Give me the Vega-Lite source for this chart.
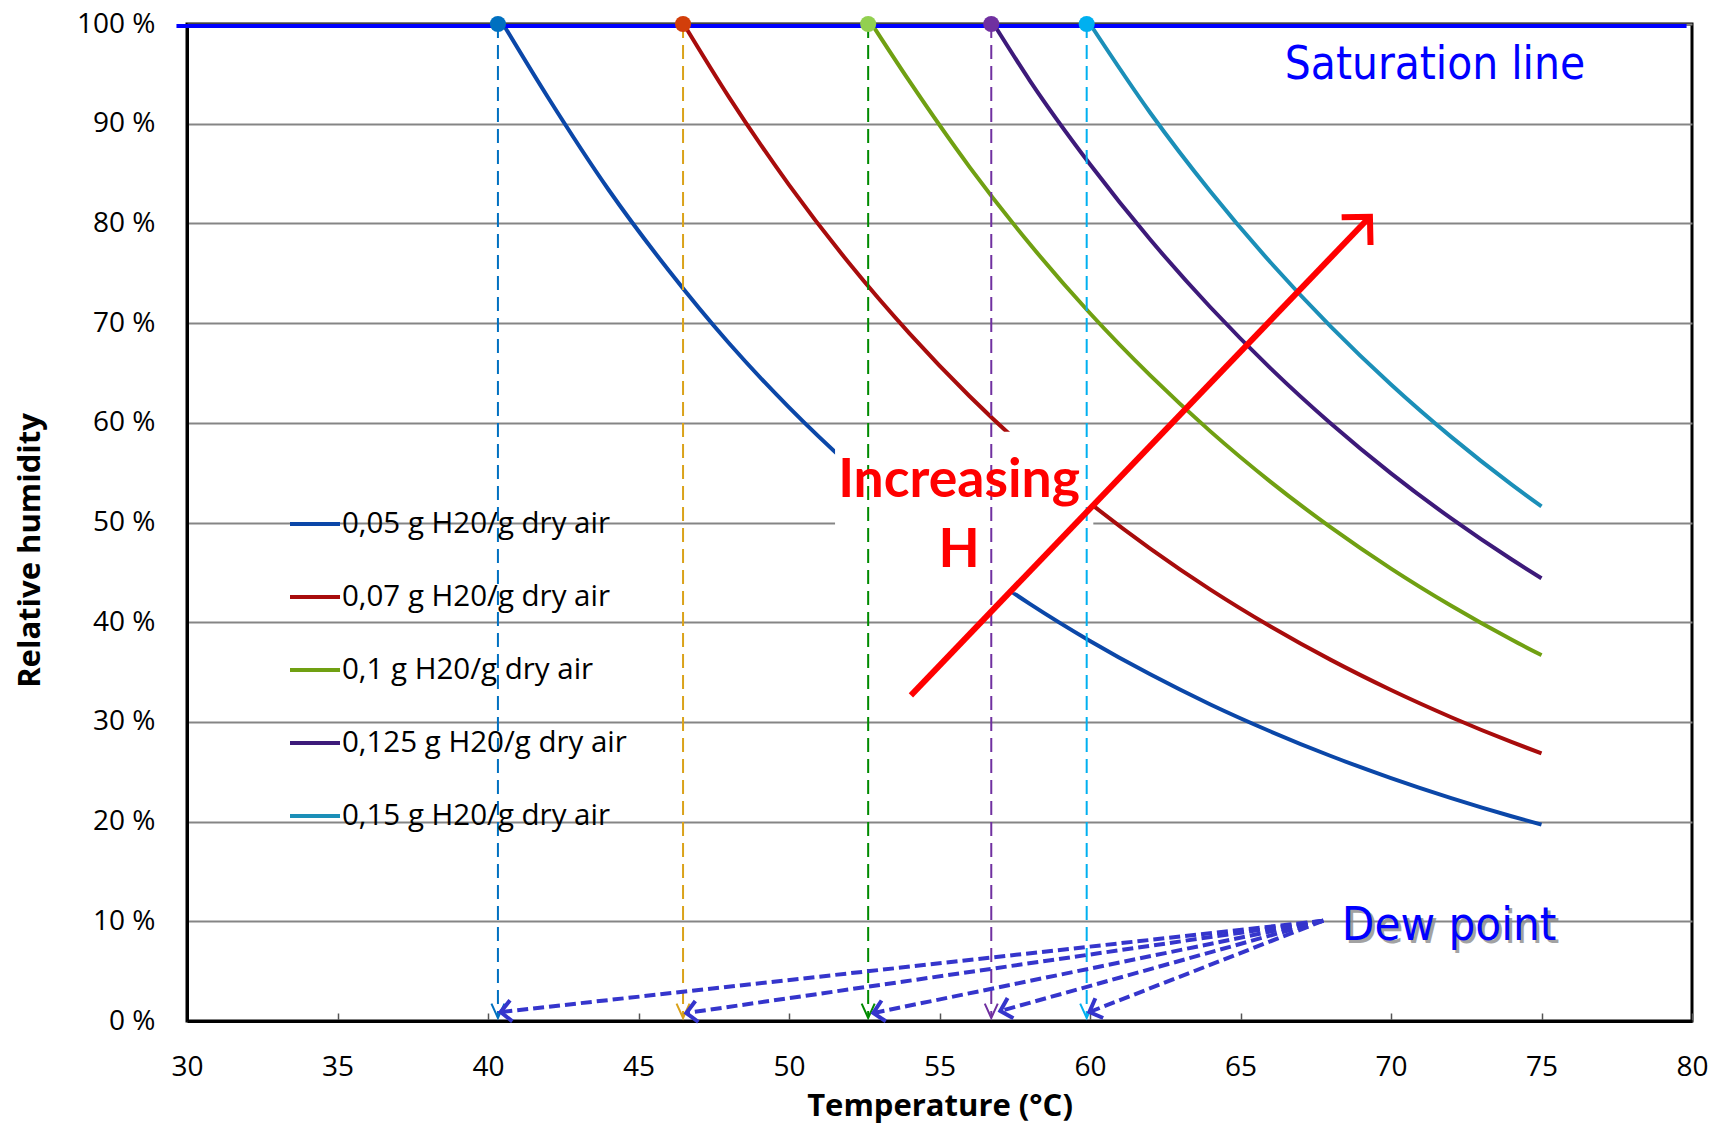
{
  "$schema": "https://vega.github.io/schema/vega-lite/v6.json",
  "width": 1505,
  "height": 997,
  "autosize": {"type": "none"},
  "padding": {"left": 187, "top": 24, "right": 33, "bottom": 103},
  "background": "white",
  "config": {
    "view": {"stroke": "black", "strokeWidth": 3},
    "axis": {
      "domainColor": "black", "domainWidth": 3,
      "labelFont": "Open Sans", "labelFontSize": 28, "labelColor": "black",
      "titleFont": "Open Sans", "titleFontSize": 31, "titleFontWeight": "bold", "titleColor": "black",
      "gridColor": "#858585", "gridWidth": 2, "gridOpacity": 1,
      "labelFlush": false, "labelOverlap": false, "labelBound": false
    }
  },
  "datasets": {
    "curves": [
      {"series": "0,05 g H20/g dry air", "T": 40.5, "RH": 100},
      {"series": "0,05 g H20/g dry air", "T": 42, "RH": 92.6},
      {"series": "0,05 g H20/g dry air", "T": 44, "RH": 83.4},
      {"series": "0,05 g H20/g dry air", "T": 46, "RH": 75.3},
      {"series": "0,05 g H20/g dry air", "T": 48, "RH": 68.0},
      {"series": "0,05 g H20/g dry air", "T": 50, "RH": 61.55},
      {"series": "0,05 g H20/g dry air", "T": 52, "RH": 55.78},
      {"series": "0,05 g H20/g dry air", "T": 54, "RH": 50.61},
      {"series": "0,05 g H20/g dry air", "T": 56, "RH": 45.99},
      {"series": "0,05 g H20/g dry air", "T": 58, "RH": 41.84},
      {"series": "0,05 g H20/g dry air", "T": 60, "RH": 38.12},
      {"series": "0,05 g H20/g dry air", "T": 62, "RH": 34.77},
      {"series": "0,05 g H20/g dry air", "T": 64, "RH": 31.75},
      {"series": "0,05 g H20/g dry air", "T": 66, "RH": 29.04},
      {"series": "0,05 g H20/g dry air", "T": 68, "RH": 26.58},
      {"series": "0,05 g H20/g dry air", "T": 70, "RH": 24.37},
      {"series": "0,05 g H20/g dry air", "T": 72, "RH": 22.36},
      {"series": "0,05 g H20/g dry air", "T": 74, "RH": 20.54},
      {"series": "0,05 g H20/g dry air", "T": 75, "RH": 19.70},
      {"series": "0,07 g H20/g dry air", "T": 46.5, "RH": 100},
      {"series": "0,07 g H20/g dry air", "T": 48, "RH": 92.69},
      {"series": "0,07 g H20/g dry air", "T": 50, "RH": 83.87},
      {"series": "0,07 g H20/g dry air", "T": 52, "RH": 76.00},
      {"series": "0,07 g H20/g dry air", "T": 54, "RH": 68.97},
      {"series": "0,07 g H20/g dry air", "T": 56, "RH": 62.66},
      {"series": "0,07 g H20/g dry air", "T": 58, "RH": 57.01},
      {"series": "0,07 g H20/g dry air", "T": 60, "RH": 51.94},
      {"series": "0,07 g H20/g dry air", "T": 62, "RH": 47.38},
      {"series": "0,07 g H20/g dry air", "T": 64, "RH": 43.27},
      {"series": "0,07 g H20/g dry air", "T": 66, "RH": 39.57},
      {"series": "0,07 g H20/g dry air", "T": 68, "RH": 36.22},
      {"series": "0,07 g H20/g dry air", "T": 70, "RH": 33.20},
      {"series": "0,07 g H20/g dry air", "T": 72, "RH": 30.47},
      {"series": "0,07 g H20/g dry air", "T": 74, "RH": 27.99},
      {"series": "0,07 g H20/g dry air", "T": 75, "RH": 26.84},
      {"series": "0,1 g H20/g dry air", "T": 52.75, "RH": 100},
      {"series": "0,1 g H20/g dry air", "T": 54, "RH": 94.26},
      {"series": "0,1 g H20/g dry air", "T": 56, "RH": 85.65},
      {"series": "0,1 g H20/g dry air", "T": 58, "RH": 77.93},
      {"series": "0,1 g H20/g dry air", "T": 60, "RH": 70.99},
      {"series": "0,1 g H20/g dry air", "T": 62, "RH": 64.76},
      {"series": "0,1 g H20/g dry air", "T": 64, "RH": 59.14},
      {"series": "0,1 g H20/g dry air", "T": 66, "RH": 54.08},
      {"series": "0,1 g H20/g dry air", "T": 68, "RH": 49.51},
      {"series": "0,1 g H20/g dry air", "T": 70, "RH": 45.38},
      {"series": "0,1 g H20/g dry air", "T": 72, "RH": 41.65},
      {"series": "0,1 g H20/g dry air", "T": 74, "RH": 38.26},
      {"series": "0,1 g H20/g dry air", "T": 75, "RH": 36.69},
      {"series": "0,125 g H20/g dry air", "T": 56.8, "RH": 100},
      {"series": "0,125 g H20/g dry air", "T": 58, "RH": 94.33},
      {"series": "0,125 g H20/g dry air", "T": 60, "RH": 85.93},
      {"series": "0,125 g H20/g dry air", "T": 62, "RH": 78.38},
      {"series": "0,125 g H20/g dry air", "T": 64, "RH": 71.59},
      {"series": "0,125 g H20/g dry air", "T": 66, "RH": 65.46},
      {"series": "0,125 g H20/g dry air", "T": 68, "RH": 59.93},
      {"series": "0,125 g H20/g dry air", "T": 70, "RH": 54.93},
      {"series": "0,125 g H20/g dry air", "T": 72, "RH": 50.41},
      {"series": "0,125 g H20/g dry air", "T": 74, "RH": 46.31},
      {"series": "0,125 g H20/g dry air", "T": 75, "RH": 44.41},
      {"series": "0,15 g H20/g dry air", "T": 60, "RH": 100},
      {"series": "0,15 g H20/g dry air", "T": 62, "RH": 91.10},
      {"series": "0,15 g H20/g dry air", "T": 64, "RH": 83.20},
      {"series": "0,15 g H20/g dry air", "T": 66, "RH": 76.08},
      {"series": "0,15 g H20/g dry air", "T": 68, "RH": 69.65},
      {"series": "0,15 g H20/g dry air", "T": 70, "RH": 63.84},
      {"series": "0,15 g H20/g dry air", "T": 72, "RH": 58.59},
      {"series": "0,15 g H20/g dry air", "T": 74, "RH": 53.82},
      {"series": "0,15 g H20/g dry air", "T": 75, "RH": 51.61}
    ],
    "dew": [
      {"series": "0,05 g H20/g dry air", "Td": 40.33, "tipT": 40.42, "tipRH": 0.9, "fromT": 67.75, "fromRH": 10.06},
      {"series": "0,07 g H20/g dry air", "Td": 46.48, "tipT": 46.59, "tipRH": 0.8, "fromT": 67.75, "fromRH": 10.06},
      {"series": "0,1 g H20/g dry air", "Td": 52.63, "tipT": 52.8, "tipRH": 0.8, "fromT": 67.75, "fromRH": 10.06},
      {"series": "0,125 g H20/g dry air", "Td": 56.72, "tipT": 57.02, "tipRH": 1.0, "fromT": 67.75, "fromRH": 10.06},
      {"series": "0,15 g H20/g dry air", "Td": 59.89, "tipT": 59.98, "tipRH": 0.9, "fromT": 67.75, "fromRH": 10.06}
    ]
  },
  "layer": [
    {
      "data": {"name": "curves"},
      "mark": {"type": "line", "strokeWidth": 4, "interpolate": "monotone"},
      "encoding": {
        "x": {
          "field": "T", "type": "quantitative",
          "scale": {"domain": [30, 80], "nice": false, "zero": false},
          "axis": {
            "title": "Temperature (°C)",
            "values": [30, 35, 40, 45, 50, 55, 60, 65, 70, 75, 80],
            "grid": false, "tickSize": -8, "tickColor": "#555555", "tickWidth": 1.5,
            "labelPadding": 40, "titleY": 94, "titleBaseline": "alphabetic"
          }
        },
        "y": {
          "field": "RH", "type": "quantitative",
          "scale": {"domain": [0, 100], "nice": false, "zero": true},
          "axis": {
            "title": "Relative humidity",
            "values": [0, 10, 20, 30, 40, 50, 60, 70, 80, 90, 100],
            "labelExpr": "datum.value + ' %'",
            "ticks": false, "labelPadding": 32,
            "titleX": -148, "titleY": 526, "titleBaseline": "alphabetic", "titleAlign": "center", "titleAngle": -90
          }
        },
        "color": {
          "field": "series", "type": "nominal",
          "scale": {
            "domain": ["0,05 g H20/g dry air", "0,07 g H20/g dry air", "0,1 g H20/g dry air", "0,125 g H20/g dry air", "0,15 g H20/g dry air"],
            "range": ["#0B47A8", "#A80C0C", "#70A012", "#3D1A7A", "#1B8FB8"]
          },
          "legend": {
            "title": null, "orient": "none", "legendX": 101, "legendY": 473,
            "symbolType": "stroke", "symbolSize": 2500, "symbolStrokeWidth": 4,
            "labelFont": "Open Sans", "labelFontSize": 29.5, "labelColor": "black",
            "rowPadding": 31, "labelOffset": 0, "padding": 0, "labelLimit": 0
          }
        }
      }
    },
    {
      "data": {"values": [{"T1": 29.65, "T2": 79.82, "RH": 99.8}]},
      "mark": {"type": "rule", "color": "#0000FF", "strokeWidth": 4},
      "encoding": {
        "x": {"field": "T1", "type": "quantitative"},
        "x2": {"field": "T2"},
        "y": {"field": "RH", "type": "quantitative"}
      }
    },
    {
      "data": {"values": [{"T1": 51.53, "T2": 60.11, "RH1": 43.0, "RH2": 59.1}]},
      "mark": {"type": "rect", "fill": "white", "stroke": null},
      "encoding": {
        "x": {"field": "T1", "type": "quantitative"},
        "x2": {"field": "T2"},
        "y": {"field": "RH1", "type": "quantitative"},
        "y2": {"field": "RH2"}
      }
    },
    {
      "data": {"name": "dew"},
      "mark": {"type": "rule", "strokeWidth": 2, "strokeDash": [14, 7]},
      "encoding": {
        "x": {"field": "Td", "type": "quantitative"},
        "y": {"datum": 100, "type": "quantitative"},
        "y2": {"datum": 0.4},
        "stroke": {
          "field": "series", "type": "nominal",
          "scale": {
            "domain": ["0,05 g H20/g dry air", "0,07 g H20/g dry air", "0,1 g H20/g dry air", "0,125 g H20/g dry air", "0,15 g H20/g dry air"],
            "range": ["#0070C0", "#DAA21A", "#008A00", "#7030A0", "#00B0F0"]
          },
          "legend": null
        }
      }
    },
    {
      "data": {"name": "dew"},
      "mark": {"type": "point", "shape": "M-1,-2.2L0,0L1,-2.2", "size": 169, "filled": false, "strokeWidth": 2, "opacity": 1},
      "encoding": {
        "x": {"field": "Td", "type": "quantitative"},
        "y": {"datum": 0.3, "type": "quantitative"},
        "stroke": {"field": "series", "type": "nominal", "legend": null}
      }
    },
    {
      "data": {"name": "dew"},
      "mark": {"type": "point", "shape": "circle", "size": 260, "filled": true, "opacity": 1, "strokeWidth": 0},
      "encoding": {
        "x": {"field": "Td", "type": "quantitative"},
        "y": {"datum": 100, "type": "quantitative"},
        "fill": {
          "field": "series", "type": "nominal",
          "scale": {
            "domain": ["0,05 g H20/g dry air", "0,07 g H20/g dry air", "0,1 g H20/g dry air", "0,125 g H20/g dry air", "0,15 g H20/g dry air"],
            "range": ["#0070C0", "#D23E0A", "#92D050", "#7030A0", "#00B0F0"]
          },
          "legend": null
        }
      }
    },
    {
      "data": {"name": "dew"},
      "mark": {"type": "rule", "color": "#3535CC", "strokeWidth": 4, "strokeDash": [11, 5]},
      "encoding": {
        "x": {"field": "fromT", "type": "quantitative"},
        "y": {"field": "fromRH", "type": "quantitative"},
        "x2": {"field": "tipT"},
        "y2": {"field": "tipRH"}
      }
    },
    {
      "data": {"name": "dew"},
      "transform": [{"filter": "datum.series === '0,05 g H20/g dry air'"}],
      "mark": {"type": "point", "shape": "M1,-1L0,0L1,1", "size": 450, "filled": false, "stroke": "#3535CC", "strokeWidth": 4, "opacity": 1, "angle": 353.6},
      "encoding": {"x": {"field": "tipT", "type": "quantitative"}, "y": {"field": "tipRH", "type": "quantitative"}}
    },
    {
      "data": {"name": "dew"},
      "transform": [{"filter": "datum.series === '0,07 g H20/g dry air'"}],
      "mark": {"type": "point", "shape": "M1,-1L0,0L1,1", "size": 450, "filled": false, "stroke": "#3535CC", "strokeWidth": 4, "opacity": 1, "angle": 351.8},
      "encoding": {"x": {"field": "tipT", "type": "quantitative"}, "y": {"field": "tipRH", "type": "quantitative"}}
    },
    {
      "data": {"name": "dew"},
      "transform": [{"filter": "datum.series === '0,1 g H20/g dry air'"}],
      "mark": {"type": "point", "shape": "M1,-1L0,0L1,1", "size": 450, "filled": false, "stroke": "#3535CC", "strokeWidth": 4, "opacity": 1, "angle": 348.4},
      "encoding": {"x": {"field": "tipT", "type": "quantitative"}, "y": {"field": "tipRH", "type": "quantitative"}}
    },
    {
      "data": {"name": "dew"},
      "transform": [{"filter": "datum.series === '0,125 g H20/g dry air'"}],
      "mark": {"type": "point", "shape": "M1,-1L0,0L1,1", "size": 450, "filled": false, "stroke": "#3535CC", "strokeWidth": 4, "opacity": 1, "angle": 344.1},
      "encoding": {"x": {"field": "tipT", "type": "quantitative"}, "y": {"field": "tipRH", "type": "quantitative"}}
    },
    {
      "data": {"name": "dew"},
      "transform": [{"filter": "datum.series === '0,15 g H20/g dry air'"}],
      "mark": {"type": "point", "shape": "M1,-1L0,0L1,1", "size": 450, "filled": false, "stroke": "#3535CC", "strokeWidth": 4, "opacity": 1, "angle": 338.5},
      "encoding": {"x": {"field": "tipT", "type": "quantitative"}, "y": {"field": "tipRH", "type": "quantitative"}}
    },
    {
      "data": {"values": [{"T1": 54.05, "RH1": 32.66, "T2": 69.3, "RH2": 80.67}]},
      "mark": {"type": "rule", "color": "#FF0000", "strokeWidth": 6},
      "encoding": {
        "x": {"field": "T1", "type": "quantitative"},
        "y": {"field": "RH1", "type": "quantitative"},
        "x2": {"field": "T2"},
        "y2": {"field": "RH2"}
      }
    },
    {
      "data": {"values": [{"T": 69.3, "RH": 80.67}]},
      "mark": {"type": "point", "shape": "M1,-1L0,0L1,1", "size": 1600, "filled": false, "stroke": "#FF0000", "strokeWidth": 6, "opacity": 1, "angle": 133.8, "strokeJoin": "miter"},
      "encoding": {"x": {"field": "T", "type": "quantitative"}, "y": {"field": "RH", "type": "quantitative"}}
    },
    {
      "data": {"values": [{"label": "Saturation line", "T": 71.46, "RH": 94.45}]},
      "mark": {"type": "text", "font": "DejaVu Sans Condensed, DejaVu Sans", "fontSize": 45.5, "color": "#0000FF", "align": "center", "baseline": "alphabetic"},
      "encoding": {"x": {"field": "T", "type": "quantitative"}, "y": {"field": "RH", "type": "quantitative"}, "text": {"field": "label"}}
    },
    {
      "data": {"values": [{"label": "Dew point", "T": 71.93, "RH": 8.12}]},
      "mark": {"type": "text", "font": "DejaVu Sans Condensed, DejaVu Sans", "fontSize": 47, "color": "#8C8C8C", "opacity": 0.8, "align": "center", "baseline": "alphabetic", "dx": 3, "dy": 3},
      "encoding": {"x": {"field": "T", "type": "quantitative"}, "y": {"field": "RH", "type": "quantitative"}, "text": {"field": "label"}}
    },
    {
      "data": {"values": [{"label": "Dew point", "T": 71.93, "RH": 8.12}]},
      "mark": {"type": "text", "font": "DejaVu Sans Condensed, DejaVu Sans", "fontSize": 47, "color": "#0000FF", "align": "center", "baseline": "alphabetic"},
      "encoding": {"x": {"field": "T", "type": "quantitative"}, "y": {"field": "RH", "type": "quantitative"}, "text": {"field": "label"}}
    },
    {
      "data": {"values": [{"label": "Increasing\nH", "T": 55.65, "RH": 52.59}]},
      "mark": {"type": "text", "font": "Lato", "fontSize": 53.5, "fontWeight": "bold", "color": "#FF0000", "align": "center", "baseline": "alphabetic", "lineBreak": "\n", "lineHeight": 70},
      "encoding": {"x": {"field": "T", "type": "quantitative"}, "y": {"field": "RH", "type": "quantitative"}, "text": {"field": "label"}}
    }
  ]
}
